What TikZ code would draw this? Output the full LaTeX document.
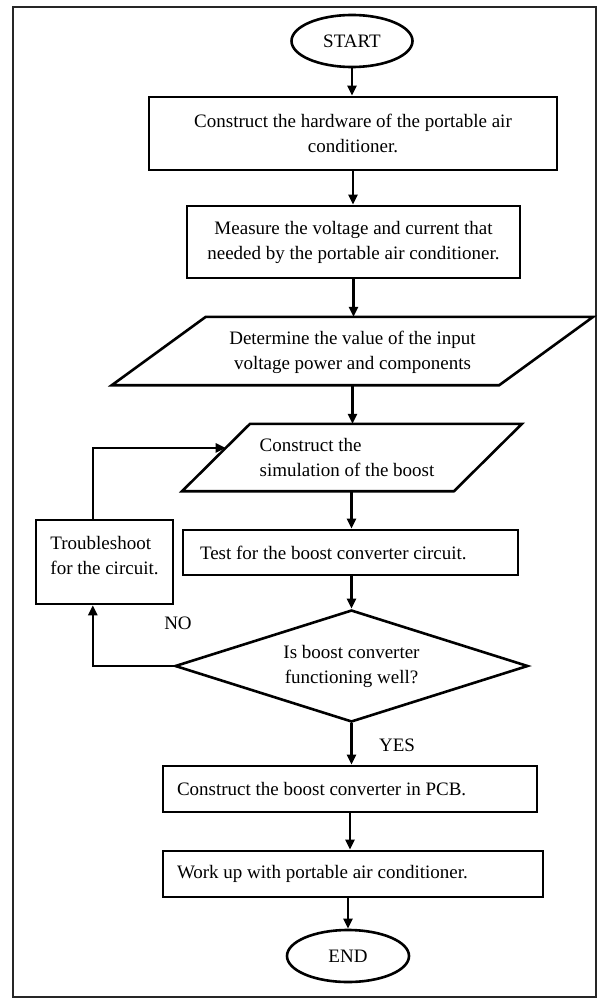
\documentclass[tikz,border=0pt]{standalone}
\usepackage{fontspec}
\setmainfont{Liberation Serif}
\usetikzlibrary{shapes.geometric,arrows.meta,calc}
\begin{document}
\begin{tikzpicture}[x=1pt,y=-1pt,
  every node/.style={font=\fontsize{19}{25}\selectfont},
  shapeline/.style={draw=black,line width=2.6pt},
  procbox/.style={shapeline,rectangle,inner ysep=0pt},
  termin/.style={shapeline,ellipse,minimum width=121pt,minimum height=52pt,inner sep=0pt},
  iotext/.style={rectangle,inner sep=0pt},
  decision/.style={shapeline,diamond,inner sep=0pt,aspect=3.15},
  flow/.style={line width=2.4pt,-{Triangle[length=10pt,width=9pt]}},
  lbl/.style={inner sep=0pt}
]
\useasboundingbox (0,0) rectangle (601,1000);
\draw[line width=2pt,black!85] (12.5,7) rectangle (596,997);

\node[termin] (start) at (352,41) {START};
\node[procbox,minimum width=408pt,minimum height=73pt,align=center] (b1) at (353,133.5)
  {Construct the hardware of the portable air\\conditioner.};
\node[procbox,minimum width=333pt,minimum height=72pt,align=center] (b2) at (353.5,242)
  {Measure the voltage and current that\\needed by the portable air conditioner.};

\node[iotext,minimum width=387pt,minimum height=68pt,align=center] (p1) at (352.5,352)
  {Determine the value of the input\\voltage power and components};
\draw[shapeline] ($(p1.north west)+(47,-1)$) -- ($(p1.north east)+(47,-1)$)
  -- ($(p1.south east)+(-47,-1)$) -- ($(p1.south west)+(-47,-1)$) -- cycle;

\node[iotext,minimum width=271.5pt,minimum height=67pt,align=flush left] (p2) at (347,457.5)
  {Construct the\\simulation of the boost};
\coordinate (p2nw) at ($(p2.north west)+(39,0)$);
\coordinate (p2ne) at ($(p2.north east)+(39,0)$);
\coordinate (p2se) at ($(p2.south east)+(-29,0)$);
\coordinate (p2sw) at ($(p2.south west)+(-29,0)$);
\draw[shapeline] (p2nw) -- (p2ne) -- (p2se) -- (p2sw) -- cycle;
\coordinate (p2in) at ($(p2sw)!0.642!(p2nw)$);

\node[procbox,minimum width=137pt,minimum height=84pt,inner xsep=0pt] (trouble) at (104.5,562)
  {\raisebox{5pt}[\height][\depth]{\begin{tabular}{@{}l@{}}Troubleshoot\\for the circuit.\end{tabular}}};
\node[procbox,minimum width=335pt,minimum height=45pt,text width=301pt,align=flush left,inner xsep=17pt] (test) at (350.5,552.5)
  {Test for the boost converter circuit.};
\node[decision,minimum width=353pt,minimum height=112pt,align=center] (d) at (351.5,666)
  {Is boost converter\\functioning well?};
\node[procbox,minimum width=374pt,minimum height=46pt,text width=346pt,align=flush left,inner xsep=14pt] (pcb) at (350,789)
  {Construct the boost converter in PCB.};
\node[procbox,minimum width=380pt,minimum height=46pt,text width=352pt,align=flush left,inner xsep=14pt] (work) at (353,874)
  {Work up with portable air conditioner.};
\node[termin,minimum width=122pt] (end) at (348,956) {END};

\node[lbl] (no) at (178,623) {NO};
\node[lbl] (yes) at (397,745) {YES};

\draw[flow] (start.south) -- (start.south |- b1.north);
\draw[flow] (b1.south) -- (b1.south |- b2.north);
\draw[flow] (b2.south) -- ($(b2.south |- p1.north)+(0,-1)$);
\draw[flow] ($(p1.south)+(0,-1)$) -- (p1.south |- p2.north);
\draw[flow] (d.north |- p2.south) -- (d.north |- test.north);
\draw[flow] (d.north |- test.south) -- (d.north);
\draw[flow] (d.south) -- (d.south |- pcb.north);
\draw[flow] (pcb.south) -- (pcb.south |- work.north);
\draw[flow] (end.north |- work.south) -- (end.north);
\draw[flow] (d.west) -| ($(trouble.south west)!0.416!(trouble.south east)$);
\draw[flow] ($(trouble.north west)!0.416!(trouble.north east)$) |- (p2in);
\end{tikzpicture}
\end{document}
